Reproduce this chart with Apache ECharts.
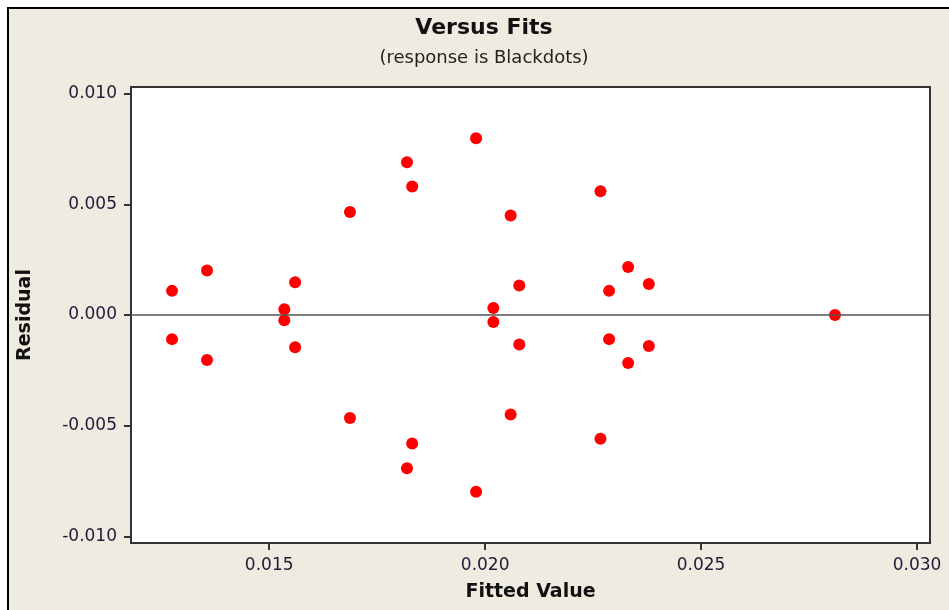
<!DOCTYPE html>
<html>
    <head>
        <meta charset="utf-8">
        <script src="https://cdn.jsdelivr.net/npm/echarts@6/dist/echarts.min.js"></script>
        <style>
            html, body {
                margin: 0;
                padding: 0;
                background: #fff;
            }
            #main {
                width: 949px;
                height: 610px;
            }
        </style>
    </head>
    <body>
        <div id="main"></div>

        <script>

            // fitted values and residuals
            var fitted = [
                0.01275, 0.01275, 0.01356, 0.01356,
                0.01535, 0.01535, 0.01560, 0.01560,
                0.01687, 0.01687, 0.01819, 0.01819,
                0.01831, 0.01831, 0.01979, 0.01979,
                0.02019, 0.02019, 0.02059, 0.02059,
                0.02079, 0.02079, 0.02267, 0.02267,
                0.02287, 0.02287, 0.02331, 0.02331,
                0.02379, 0.02379, 0.02810
            ];
            var residual = [
                0.00109, -0.00109, 0.00201, -0.00203,
                0.00026, -0.00024, 0.00148, -0.00146,
                0.00465, -0.00465, 0.00690, -0.00692,
                0.00580, -0.00581, 0.00799, -0.00799,
                0.00032, -0.00032, 0.00449, -0.00450,
                0.00133, -0.00133, 0.00559, -0.00559,
                0.00109, -0.00109, 0.00217, -0.00217,
                0.00140, -0.00140, 0.00000
            ];
            var xTicks = [0.015, 0.020, 0.025, 0.030];
            var yTicks = [-0.010, -0.005, 0.000, 0.005, 0.010];

            var points = [];
            for (var i = 0; i < fitted.length; i++) {
                points.push([fitted[i], residual[i]]);
            }

            var labelFont = 'DejaVu Sans';
            var textColor = '#1c1c38';

            var chart = echarts.init(document.getElementById('main'));

            chart.setOption({
                animation: false,
                backgroundColor: '#efebe0',
                title: {
                    text: 'Versus Fits',
                    subtext: '(response is Blackdots)',
                    left: 479,
                    top: 10,
                    textAlign: 'center',
                    itemGap: 6,
                    textStyle: {
                        fontFamily: labelFont,
                        fontSize: 22,
                        fontWeight: 'bold',
                        color: '#111',
                        lineHeight: 26
                    },
                    subtextStyle: {
                        fontFamily: labelFont,
                        fontSize: 18,
                        color: '#222',
                        lineHeight: 22
                    }
                },
                graphic: [{
                    type: 'rect',
                    shape: {x: 0, y: 0, width: 949, height: 7},
                    style: {fill: '#fff'}
                }, {
                    type: 'rect',
                    shape: {x: 0, y: 0, width: 7, height: 610},
                    style: {fill: '#fff'}
                }, {
                    type: 'polyline',
                    shape: {points: [[8, 610], [8, 8], [949, 8]]},
                    style: {stroke: '#000', lineWidth: 2, fill: null}
                }],
                grid: {
                    left: 131,
                    top: 87,
                    right: 19,
                    bottom: 67,
                    show: true,
                    backgroundColor: '#fff',
                    borderColor: '#333',
                    borderWidth: 2
                },
                xAxis: {
                    type: 'value',
                    min: 0.0118,
                    max: 0.0303,
                    name: 'Fitted Value',
                    nameLocation: 'middle',
                    nameGap: 40,
                    nameTextStyle: {
                        fontFamily: labelFont,
                        fontSize: 19,
                        fontWeight: 'bold',
                        color: '#111'
                    },
                    splitLine: {show: false},
                    axisLine: {show: true, onZero: false, lineStyle: {color: '#333', width: 2}},
                    axisTick: {
                        show: true,
                        length: 7,
                        customValues: xTicks,
                        lineStyle: {color: '#333', width: 2}
                    },
                    axisLabel: {
                        customValues: xTicks,
                        margin: 14,
                        fontFamily: labelFont,
                        fontSize: 17,
                        color: textColor,
                        formatter: function (v) {
                            return v.toFixed(3);
                        }
                    }
                },
                yAxis: {
                    type: 'value',
                    min: -0.0103,
                    max: 0.0103,
                    name: 'Residual',
                    nameLocation: 'middle',
                    nameGap: 96,
                    nameTextStyle: {
                        fontFamily: labelFont,
                        fontSize: 19,
                        fontWeight: 'bold',
                        color: '#111'
                    },
                    splitLine: {show: false},
                    axisLine: {show: true, onZero: false, lineStyle: {color: '#333', width: 2}},
                    axisTick: {
                        show: true,
                        length: 7,
                        customValues: yTicks,
                        lineStyle: {color: '#333', width: 2}
                    },
                    axisLabel: {
                        customValues: yTicks,
                        margin: 14,
                        fontFamily: labelFont,
                        fontSize: 17,
                        color: textColor,
                        formatter: function (v) {
                            return v.toFixed(3);
                        }
                    }
                },
                series: [{
                    type: 'scatter',
                    symbol: 'circle',
                    symbolSize: 12,
                    itemStyle: {color: '#ff0000', opacity: 1},
                    data: points,
                    z: 3,
                    markLine: {
                        silent: true,
                        symbol: 'none',
                        label: {show: false},
                        lineStyle: {color: '#555', width: 1.5, type: 'solid'},
                        data: [{yAxis: 0}]
                    }
                }]
            });

        </script>
    </body>
</html>
